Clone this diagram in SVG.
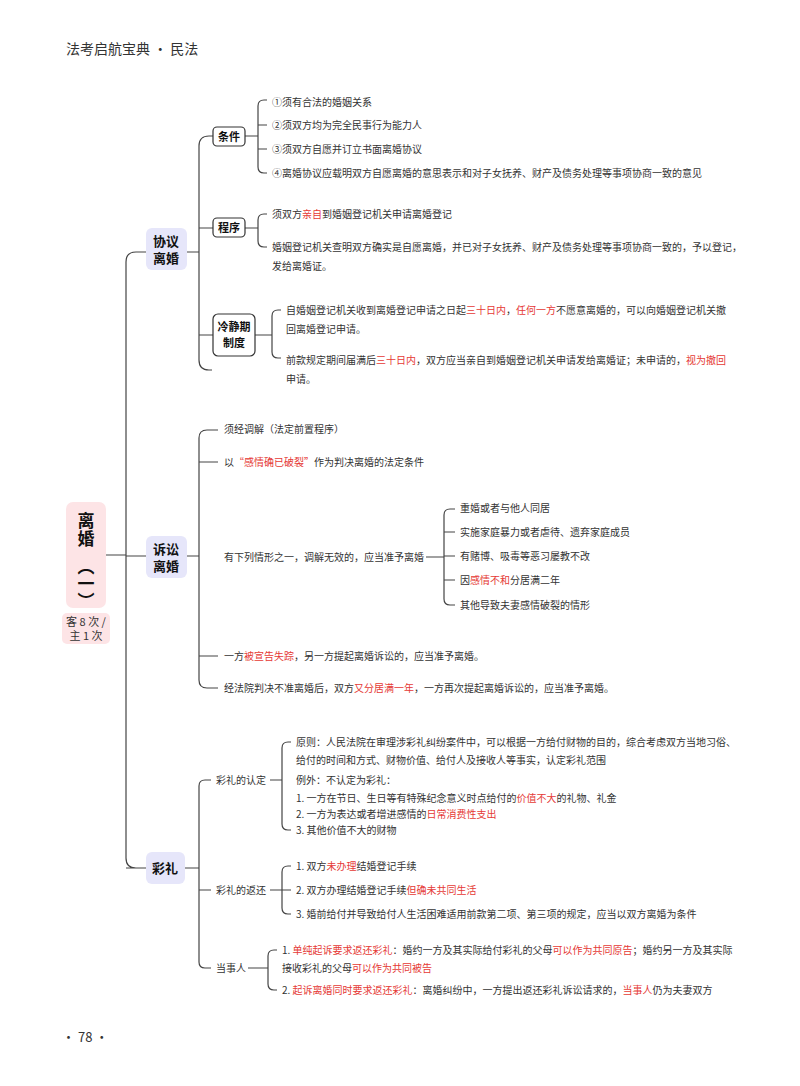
<svg xmlns="http://www.w3.org/2000/svg" width="800" height="1086" viewBox="0 0 800 1086">
<style>
text{font-family:"Noto Sans CJK SC","Liberation Sans",sans-serif;fill:#333;}
.t{font-size:10px;}
.r{fill:#e53935;}
.b{font-weight:bold;fill:#111;}
.ln{fill:none;stroke:#444;stroke-width:1.2;}
.nb{fill:#fff;stroke:#333;stroke-width:1.2;}
</style>
<rect width="800" height="1086" fill="#fff"/>
<text x="66" y="54" font-size="14">法考启航宝典 · 民法</text>
<text x="62" y="1042" font-size="13">· 78 ·</text>
<g id="connectors" class="ln">
<path d="M106 555H126M126 262Q126 252 136 252H146M126 556H146M126 868H146M126 262V858Q126 868 136 868"/>
<path d="M187 252H199M199 146Q199 136 209 136H213M199 228H213M199 335H213M199 146V360Q199 370 209 370H212"/>
<path d="M245 136H258M258 106Q258 100 264 100H267M258 125H267M258 149H267M258 106V167Q258 173 264 173H267"/>
<path d="M245 228H258M258 220Q258 214 264 214H267M258 220V241Q258 247 264 247H267"/>
<path d="M255 335H272M272 316Q272 310 278 310H281M272 316V352Q272 358 278 358H281"/>
<path d="M187 556H199M199 438Q199 430 207 430H218M199 462H218M199 680Q199 688 207 688H218M199 656H218M199 438V680"/>
<path d="M426 557H444M444 515Q444 509 450 509H455M444 532H455M444 556H455M444 580H455M444 515V599Q444 605 450 605H455"/>
<path d="M185 868H199M199 786Q199 780 205 780H211M199 890H211M199 786V962Q199 968 205 968H211"/>
<path d="M270 780H282M282 748Q282 742 288 742H291M282 748V824Q282 830 288 830H291"/>
<path d="M270 890H282M282 872Q282 866 288 866H291M282 890H291M282 872V908Q282 914 288 914H291"/>
<path d="M248 968H268M268 956Q268 950 274 950H277M268 956V984Q268 990 274 990H277"/>
</g>
<g id="root"><rect x="66" y="502" width="40" height="106" rx="7" fill="#fde4e6"/>
<text x="86" y="512" font-size="17" class="b" writing-mode="vertical-rl" letter-spacing="1">离婚</text>
<text x="86" y="558" font-size="17" class="b" writing-mode="vertical-rl">（一）</text>
<rect x="62" y="613" width="48" height="31" rx="5" fill="#fde4e6"/>
<text x="86" y="626" font-size="11" text-anchor="middle">客 8 次 /</text><text x="86" y="640" font-size="11" text-anchor="middle">主 1 次</text></g>
<g id="n1"><rect x="146" y="228" width="41" height="42" rx="6" fill="#e6e6fa"/><text x="166" y="246" font-size="13" class="b" text-anchor="middle">协议</text><text x="166" y="263" font-size="13" class="b" text-anchor="middle">离婚</text></g>
<g id="n1a"><rect x="213" y="127" width="32" height="19" rx="4" class="nb"/><text x="229" y="141" font-size="11" class="b" text-anchor="middle">条件</text>
<text x="272" y="106" class="t">①须有合法的婚姻关系</text><text x="272" y="129" class="t">②须双方均为完全民事行为能力人</text><text x="272" y="153" class="t">③须双方自愿并订立书面离婚协议</text><text x="272" y="177" class="t">④离婚协议应载明双方自愿离婚的意思表示和对子女抚养、财产及债务处理等事项协商一致的意见</text></g>
<g id="n1b"><rect x="213" y="218" width="32" height="19" rx="4" class="nb"/><text x="229" y="232" font-size="11" class="b" text-anchor="middle">程序</text>
<text x="272" y="218" class="t">须双方<tspan class="r">亲自</tspan>到婚姻登记机关申请离婚登记</text>
<text x="272" y="251" class="t">婚姻登记机关查明双方确实是自愿离婚，并已对子女抚养、财产及债务处理等事项协商一致的，予以登记，</text>
<text x="272" y="270" class="t">发给离婚证。</text></g>
<g id="n1c"><rect x="213" y="314" width="42" height="42" rx="5" class="nb"/><text x="234" y="331" font-size="11" class="b" text-anchor="middle">冷静期</text><text x="234" y="347" font-size="11" class="b" text-anchor="middle">制度</text>
<text x="286" y="314" class="t">自婚姻登记机关收到离婚登记申请之日起<tspan class="r">三十日内</tspan>，<tspan class="r">任何一方</tspan>不愿意离婚的，可以向婚姻登记机关撤</text>
<text x="286" y="333" class="t">回离婚登记申请。</text>
<text x="286" y="364" class="t">前款规定期间届满后<tspan class="r">三十日内</tspan>，双方应当亲自到婚姻登记机关申请发给离婚证；未申请的，<tspan class="r">视为撤回</tspan></text>
<text x="286" y="383" class="t">申请。</text></g>
<g id="n2"><rect x="146" y="536" width="41" height="42" rx="6" fill="#e6e6fa"/><text x="166" y="554" font-size="13" class="b" text-anchor="middle">诉讼</text><text x="166" y="571" font-size="13" class="b" text-anchor="middle">离婚</text>
<text x="224" y="433" class="t">须经调解（法定前置程序）</text>
<text x="224" y="466" class="t">以<tspan class="r">“感情确已破裂”</tspan>作为判决离婚的法定条件</text>
<text x="224" y="561" class="t">有下列情形之一，调解无效的，应当准予离婚</text>
<text x="460" y="512" class="t">重婚或者与他人同居</text><text x="460" y="536" class="t">实施家庭暴力或者虐待、遗弃家庭成员</text><text x="460" y="560" class="t">有赌博、吸毒等恶习屡教不改</text><text x="460" y="584" class="t">因<tspan class="r">感情不和</tspan>分居满二年</text><text x="460" y="609" class="t">其他导致夫妻感情破裂的情形</text>
<text x="224" y="660" class="t">一方<tspan class="r">被宣告失踪</tspan>，另一方提起离婚诉讼的，应当准予离婚。</text>
<text x="224" y="692" class="t">经法院判决不准离婚后，双方<tspan class="r">又分居满一年</tspan>，一方再次提起离婚诉讼的，应当准予离婚。</text></g>
<g id="n3"><rect x="146" y="852" width="39" height="32" rx="6" fill="#e6e6fa"/><text x="165" y="873" font-size="13" class="b" text-anchor="middle">彩礼</text>
<text x="216" y="784" class="t">彩礼的认定</text>
<text x="296" y="746" class="t">原则：人民法院在审理涉彩礼纠纷案件中，可以根据一方给付财物的目的，综合考虑双方当地习俗、</text>
<text x="296" y="764" class="t">给付的时间和方式、财物价值、给付人及接收人等事实，认定彩礼范围</text>
<text x="296" y="784" class="t">例外：不认定为彩礼：</text>
<text x="296" y="802" class="t">1. 一方在节日、生日等有特殊纪念意义时点给付的<tspan class="r">价值不大</tspan>的礼物、礼金</text>
<text x="296" y="818" class="t">2. 一方为表达或者增进感情的<tspan class="r">日常消费性支出</tspan></text>
<text x="296" y="834" class="t">3. 其他价值不大的财物</text>
<text x="216" y="894" class="t">彩礼的返还</text>
<text x="296" y="870" class="t">1. 双方<tspan class="r">未办理</tspan>结婚登记手续</text>
<text x="296" y="894" class="t">2. 双方办理结婚登记手续<tspan class="r">但确未共同生活</tspan></text>
<text x="296" y="918" class="t">3. 婚前给付并导致给付人生活困难适用前款第二项、第三项的规定，应当以双方离婚为条件</text>
<text x="216" y="972" class="t">当事人</text>
<text x="282" y="954" class="t">1. <tspan class="r">单纯起诉要求返还彩礼</tspan>：婚约一方及其实际给付彩礼的父母<tspan class="r">可以作为共同原告</tspan>；婚约另一方及其实际</text>
<text x="282" y="972" class="t">接收彩礼的父母<tspan class="r">可以作为共同被告</tspan></text>
<text x="282" y="994" class="t">2. <tspan class="r">起诉离婚同时要求返还彩礼</tspan>：离婚纠纷中，一方提出返还彩礼诉讼请求的，<tspan class="r">当事人</tspan>仍为夫妻双方</text></g>
</svg>
